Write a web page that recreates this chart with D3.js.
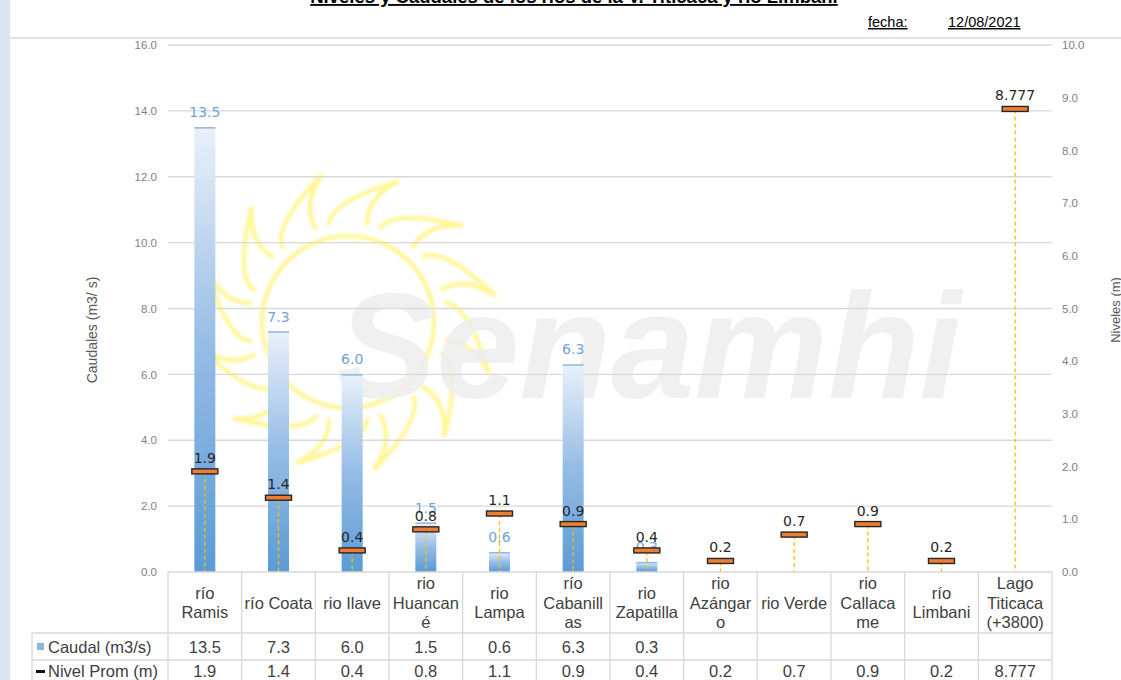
<!DOCTYPE html>
<html>
<head>
<meta charset="utf-8">
<script src="https://cdn.jsdelivr.net/npm/d3@7"></script>
<style>
  body { margin: 0; background: #fff; }
  svg { display: block; font-family: "Liberation Sans", Arial, sans-serif; }
</style>
</head>
<body>
<svg id="chart" width="1121" height="680"></svg>
<script>
// data
const categories = ['río Ramis', 'río Coata', 'rio Ilave', 'rio Huancané', 'rio Lampa', 'río Cabanillas',
  'rio Zapatilla', 'rio Azángaro', 'rio Verde', 'rio Callacame', 'río Limbani', 'Lago Titicaca (+3800)'];
const catLines = [['río', 'Ramis'], ['río Coata'], ['rio Ilave'], ['rio', 'Huancan', 'é'], ['rio', 'Lampa'],
  ['río', 'Cabanill', 'as'], ['rio', 'Zapatilla'], ['rio', 'Azángar', 'o'], ['rio Verde'], ['rio', 'Callaca', 'me'],
  ['río', 'Limbani'], ['Lago', 'Titicaca', '(+3800)']];
const caudal = [13.5, 7.3, 6.0, 1.5, 0.6, 6.3, 0.3, null, null, null, null, null];
const nivel = [1.9, 1.4, 0.4, 0.8, 1.1, 0.9, 0.4, 0.2, 0.7, 0.9, 0.2, 8.777];
const leftTicks = [0, 2, 4, 6, 8, 10, 12, 14, 16];
const rightTicks = [0, 1, 2, 3, 4, 5, 6, 7, 8, 9, 10];

const svg = d3.select('#chart');
const plotL = 168, plotR = 1052, plotT = 45, plotB = 572;

const x = d3.scaleBand().domain(categories).range([plotL, plotR]);
const yL = d3.scaleLinear().domain([0, 16]).range([plotB, plotT]);
const yR = d3.scaleLinear().domain([0, 10]).range([plotB, plotT]);
const f1 = d3.format('.1f');
const fmtNivel = (v) => (Math.round(v * 10) === v * 10 ? f1(v) : String(v));
const cx = (c) => x(c) + x.bandwidth() / 2;

const defs = svg.append('defs');
const grad = defs.append('linearGradient').attr('id', 'barGrad')
  .attr('x1', 0).attr('y1', 0).attr('x2', 0).attr('y2', 1);
grad.append('stop').attr('offset', '0%').attr('stop-color', '#eaf1fa');
grad.append('stop').attr('offset', '50%').attr('stop-color', '#95bce5');
grad.append('stop').attr('offset', '100%').attr('stop-color', '#5b9bd5');
defs.append('filter').attr('id', 'glow')
  .append('feGaussianBlur').attr('stdDeviation', 1.6);

// frame of the sheet
svg.append('rect').attr('x', 0).attr('y', 0).attr('width', 8).attr('height', 680).attr('fill', '#dbe6f4');
svg.append('line').attr('x1', 9).attr('x2', 9).attr('y1', 0).attr('y2', 680).attr('stroke', '#c8c8c8');
svg.append('line').attr('x1', 9).attr('x2', 1121).attr('y1', 38).attr('y2', 38).attr('stroke', '#e3e3e3').attr('stroke-width', 2);

// title (cut at the top)
svg.append('text').attr('x', 574).attr('y', 3).attr('text-anchor', 'middle')
  .attr('font-weight', 'bold').attr('font-size', 18.5).attr('text-decoration', 'underline').attr('fill', '#000')
  .text('Niveles y Caudales de los ríos de la V. Titicaca y río Limbani');
svg.append('text').attr('x', 868).attr('y', 27).attr('font-size', 14.5).attr('text-decoration', 'underline')
  .text('fecha:');
svg.append('text').attr('x', 948).attr('y', 27).attr('font-size', 14.5).attr('text-decoration', 'underline')
  .text('12/08/2021');

// watermark: sun + Senamhi
const sun = svg.append('g').attr('transform', 'translate(348,322)').attr('filter', 'url(#glow)')
  .attr('fill', 'none').attr('stroke', '#fff36b').attr('stroke-width', 4.5).attr('opacity', 0.7);
sun.append('circle').attr('r', 86);
const nRays = 12;
let rayPath = '';
for (let i = 0; i < nRays; i++) {
  const a0 = (i / nRays) * 2 * Math.PI - 0.2, a1 = a0 + (2 * Math.PI / nRays) * 0.75;
  const am = a0 + 0.55, ri = 98, ro = 150;
  const p0 = [ri * Math.cos(a0), ri * Math.sin(a0)];
  const p1 = [ro * Math.cos(am), ro * Math.sin(am)];
  const p2 = [ri * Math.cos(a1), ri * Math.sin(a1)];
  const c0 = [122 * Math.cos(a0 + 0.05), 122 * Math.sin(a0 + 0.05)];
  const c1 = [126 * Math.cos(a1 - 0.05), 126 * Math.sin(a1 - 0.05)];
  rayPath += `M${p0}Q${c0} ${p1}Q${c1} ${p2}`;
}
sun.append('path').attr('d', rayPath);
svg.append('text').attr('x', 336).attr('y', 398).attr('font-size', 150).attr('font-weight', 'bold')
  .attr('font-style', 'italic').attr('fill', '#efefef').attr('opacity', 0.9).text('Senamhi');

// gridlines
svg.append('g').selectAll('line').data(leftTicks.slice(1)).join('line')
  .attr('x1', plotL).attr('x2', plotR).attr('y1', d => yL(d)).attr('y2', d => yL(d))
  .attr('stroke', '#d9d9d9').attr('stroke-width', 1.3);

// axes
const axL = svg.append('g').attr('transform', `translate(${plotL},0)`)
  .call(d3.axisLeft(yL).tickValues(leftTicks).tickFormat(f1).tickSize(0).tickPadding(11));
const axR = svg.append('g').attr('transform', `translate(${plotR},0)`)
  .call(d3.axisRight(yR).tickValues(rightTicks).tickFormat(f1).tickSize(0).tickPadding(10));
[axL, axR].forEach(a => {
  a.select('.domain').remove();
  a.selectAll('text').attr('fill', '#7f7f7f').attr('font-size', 11.5).attr('font-family', 'Liberation Sans, Arial');
});
svg.append('text').attr('transform', 'translate(97,330) rotate(-90)').attr('text-anchor', 'middle')
  .attr('font-size', 14).attr('fill', '#595959').text('Caudales (m3/ s)');
svg.append('text').attr('transform', 'translate(1120,310) rotate(-90)').attr('text-anchor', 'middle')
  .attr('font-size', 13).attr('fill', '#595959').text('Niveles (m)');

// bars
const bw = 21;
const barData = categories.map((c, i) => ({ c, v: caudal[i] })).filter(d => d.v != null);
const bars = svg.append('g');
bars.selectAll('rect').data(barData).join('rect')
  .attr('x', d => cx(d.c) - bw / 2)
  .attr('y', d => yL(d.v)).attr('width', bw).attr('height', d => yL(0) - yL(d.v))
  .attr('fill', 'url(#barGrad)');
bars.selectAll('line').data(barData).join('line')
  .attr('x1', d => cx(d.c) - bw / 2).attr('x2', d => cx(d.c) + bw / 2)
  .attr('y1', d => yL(d.v) + 0.5).attr('y2', d => yL(d.v) + 0.5)
  .attr('stroke', '#8fb6e0').attr('stroke-width', 1.5);
bars.selectAll('text').data(barData).join('text')
  .attr('x', d => cx(d.c)).attr('y', d => yL(d.v) - 10)
  .attr('text-anchor', 'middle').attr('font-family', 'DejaVu Sans, Verdana').attr('font-size', 14)
  .attr('fill', '#6fa3da').text(d => f1(d.v));

// nivel markers
const lvl = categories.map((c, i) => ({ c, v: nivel[i] }));
const mk = svg.append('g');
mk.selectAll('line').data(lvl).join('line')
  .attr('x1', d => cx(d.c)).attr('x2', d => cx(d.c))
  .attr('y1', d => yR(d.v)).attr('y2', yR(0))
  .attr('stroke', '#ffc000').attr('stroke-width', 1.3).attr('stroke-dasharray', '4,3');
mk.selectAll('rect').data(lvl).join('rect')
  .attr('x', d => cx(d.c) - 13).attr('y', d => yR(d.v) - 3)
  .attr('width', 26).attr('height', 5)
  .attr('fill', '#ed7d31').attr('stroke', '#262626').attr('stroke-width', 1.4);
mk.selectAll('text').data(lvl).join('text')
  .attr('x', d => cx(d.c)).attr('y', d => yR(d.v) - 9)
  .attr('text-anchor', 'middle').attr('font-family', 'DejaVu Sans, Verdana').attr('font-size', 14)
  .attr('fill', '#262626').text(d => fmtNivel(d.v));

// data table
const tb = svg.append('g');
const rowTop = [plotB, 633, 660, 687];
const tableLeft = 32;
const gridC = '#d9d9d9';
const fs = 16.5;
tb.append('line').attr('x1', plotL).attr('x2', plotR).attr('y1', plotB).attr('y2', plotB).attr('stroke', gridC).attr('stroke-width', 1.3);
[633, 660].forEach(yy => tb.append('line').attr('x1', tableLeft).attr('x2', plotR).attr('y1', yy).attr('y2', yy).attr('stroke', gridC).attr('stroke-width', 1.3));
tb.append('line').attr('x1', tableLeft).attr('x2', tableLeft).attr('y1', 633).attr('y2', 680).attr('stroke', gridC).attr('stroke-width', 1.3);
const edges = categories.map(c => x(c)).concat([plotR]);
tb.selectAll('line.v').data(edges).join('line').attr('class', 'v')
  .attr('x1', d => d).attr('x2', d => d).attr('y1', plotB).attr('y2', 680)
  .attr('stroke', gridC).attr('stroke-width', 1.3);
const txtC = '#404040';
categories.forEach((c, i) => {
  const lines = catLines[i];
  const lh = 19.5;
  const y0 = (rowTop[0] + rowTop[1]) / 2 - (lines.length - 1) * lh / 2 + 6;
  const t = tb.append('text').attr('text-anchor', 'middle').attr('font-size', fs).attr('fill', txtC);
  lines.forEach((l, j) => t.append('tspan').attr('x', cx(c)).attr('y', y0 + j * lh).text(l));
  if (caudal[i] != null) {
    tb.append('text').attr('x', cx(c)).attr('y', 653).attr('text-anchor', 'middle').attr('font-size', fs)
      .attr('fill', txtC).text(f1(caudal[i]));
  }
  tb.append('text').attr('x', cx(c)).attr('y', 677).attr('text-anchor', 'middle').attr('font-size', fs)
    .attr('fill', txtC).text(fmtNivel(nivel[i]));
});
tb.append('rect').attr('x', 37).attr('y', 643).attr('width', 7).attr('height', 7).attr('fill', '#8fb6e0');
tb.append('text').attr('x', 48).attr('y', 653).attr('font-size', fs).attr('fill', txtC).text('Caudal (m3/s)');
tb.append('rect').attr('x', 36).attr('y', 670).attr('width', 9).attr('height', 3).attr('fill', '#111');
tb.append('text').attr('x', 48).attr('y', 677).attr('font-size', fs).attr('fill', txtC).text('Nivel Prom (m)');
</script>
</body>
</html>
